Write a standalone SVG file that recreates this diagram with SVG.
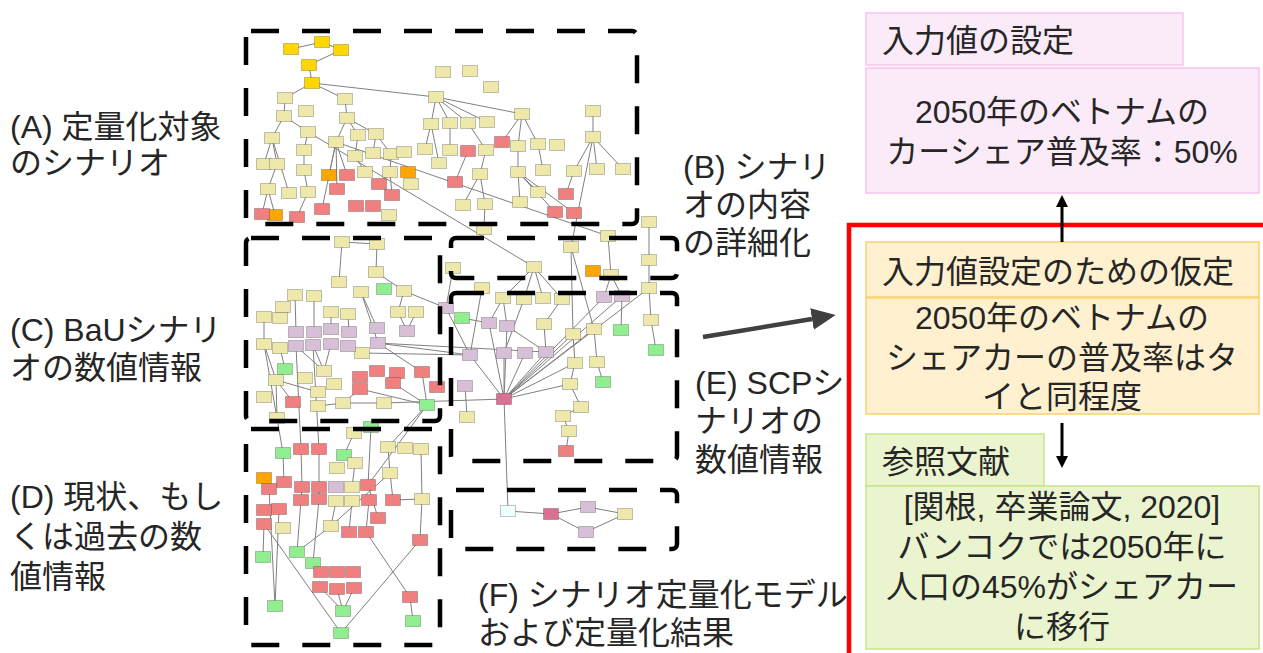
<svg xmlns="http://www.w3.org/2000/svg" xmlns:xlink="http://www.w3.org/1999/xlink" width="1263" height="653" viewBox="0 0 1263 653">
<style>
.ky{fill:#EEE8AA}.gd{fill:#FFD700}.or{fill:#FFA500}.rd{fill:#F08080}.gn{fill:#90EE90}.lv{fill:#D8BFD8}.pk{fill:#DB7093}.az{fill:#F0FFFF}
#nodes g{stroke:#000;stroke-opacity:.22;stroke-width:1}
#edges path{stroke:#808080;stroke-width:1;fill:none}
.dash{fill:none;stroke:#000;stroke-width:4.5;stroke-dasharray:28 23}
.lbl{font-family:"Liberation Sans","Noto Sans CJK JP",sans-serif;font-size:32px;fill:#262626}
.mid{text-anchor:middle}
</style>
<defs>
<rect id="bx" x="-7.5" y="-5.5" width="15" height="11"/>
<marker id="ah" markerUnits="userSpaceOnUse" markerWidth="12" markerHeight="12" refX="0" refY="6" orient="auto"><path d="M0,0L12,6L0,12z" fill="#000"/></marker>
<marker id="ahg" markerUnits="userSpaceOnUse" markerWidth="24" markerHeight="22" refX="0" refY="11" orient="auto"><path d="M0,0L24,11L0,22z" fill="#404040"/></marker>
</defs>
<rect width="1263" height="653" fill="#fff"/>

<g id="edges">
<path d="M291 49L322 42"/><path d="M322 42L341 50"/><path d="M341 50L309 65"/><path d="M309 65L312 83"/>
<path d="M312 83L285 98"/><path d="M312 83L345 99"/><path d="M312 83L436 97"/><path d="M285 98L284 116"/>
<path d="M345 99L347 118"/><path d="M284 116L272 138"/><path d="M284 116L308 132"/><path d="M272 138L264 164"/>
<path d="M272 138L277 164"/><path d="M277 164L268 189"/><path d="M272 138L289 193"/><path d="M268 189L262 214"/>
<path d="M268 189L275 215"/><path d="M308 132L304 150"/><path d="M304 150L304 170"/><path d="M304 170L308 192"/>
<path d="M308 192L297 217"/><path d="M308 132L534 267"/><path d="M347 118L336 142"/><path d="M347 118L358 135"/>
<path d="M347 118L376 134"/><path d="M336 142L329 175"/><path d="M336 142L347 175"/><path d="M336 142L337 189"/>
<path d="M336 142L322 209"/><path d="M336 142L608 236"/><path d="M358 135L355 156"/><path d="M355 156L365 172"/>
<path d="M376 134L373 153"/><path d="M376 134L391 154"/><path d="M391 154L390 172"/><path d="M390 172L379 184"/>
<path d="M390 172L392 195"/><path d="M436 97L431 124"/><path d="M436 97L450 123"/><path d="M436 97L468 123"/>
<path d="M436 97L487 122"/><path d="M436 97L522 114"/><path d="M431 124L425 149"/><path d="M431 124L439 163"/>
<path d="M450 123L450 150"/><path d="M468 123L486 150"/><path d="M486 150L480 174"/><path d="M468 151L455 182"/>
<path d="M480 174L463 205"/><path d="M480 174L485 204"/><path d="M485 204L484 229"/><path d="M522 114L502 142"/>
<path d="M522 114L518 146"/><path d="M522 114L538 144"/><path d="M518 146L518 172"/><path d="M538 144L543 170"/>
<path d="M518 172L520 202"/><path d="M518 172L538 192"/><path d="M518 172L574 213"/><path d="M518 172L555 212"/>
<path d="M593 111L593 137"/><path d="M593 137L574 171"/><path d="M593 137L597 169"/><path d="M593 137L623 169"/>
<path d="M593 137L571 247"/><path d="M574 171L566 194"/><path d="M649 222L649 260"/>
<path d="M534 267L503 298"/><path d="M534 267L524 299"/><path d="M534 267L543 298"/><path d="M534 267L562 299"/>
<path d="M571 247L573 334"/><path d="M571 247L594 329"/><path d="M608 236L611 275"/><path d="M611 275L604 297"/>
<path d="M611 275L622 296"/><path d="M622 296L621 330"/><path d="M649 260L649 288"/><path d="M649 288L651 320"/>
<path d="M651 320L656 350"/><path d="M649 288L504 399"/><path d="M604 297L504 399"/><path d="M622 296L504 399"/>
<path d="M482 288L470 355"/><path d="M453 268L446 308"/><path d="M446 308L470 355"/><path d="M462 318L489 323"/>
<path d="M503 298L489 323"/><path d="M503 298L507 326"/><path d="M524 299L504 353"/><path d="M507 326L546 352"/>
<path d="M562 299L544 324"/><path d="M544 324L546 352"/><path d="M470 355L504 399"/><path d="M489 323L504 399"/>
<path d="M507 326L504 399"/><path d="M504 353L504 399"/><path d="M525 353L504 399"/><path d="M546 352L504 399"/>
<path d="M573 334L504 399"/><path d="M594 329L504 399"/><path d="M575 363L504 399"/><path d="M570 384L504 399"/>
<path d="M573 334L575 363"/><path d="M594 329L597 362"/><path d="M597 362L603 382"/><path d="M575 363L570 384"/>
<path d="M570 384L581 407"/><path d="M581 407L563 416"/><path d="M563 416L569 431"/><path d="M569 431L566 451"/>
<path d="M465 386L467 417"/><path d="M384 403L504 399"/><path d="M504 399L508 511"/><path d="M377 343L470 355"/>
<path d="M377 343L546 352"/><path d="M362 353L470 355"/>
<path d="M342 242L377 244"/><path d="M342 242L339 282"/><path d="M377 244L376 272"/><path d="M376 272L404 291"/>
<path d="M404 291L398 312"/><path d="M404 291L446 308"/><path d="M398 312L407 331"/><path d="M416 312L407 331"/>
<path d="M361 292L377 328"/><path d="M361 292L378 343"/><path d="M295 295L296 332"/><path d="M314 296L314 332"/>
<path d="M331 312L331 329"/><path d="M348 314L349 332"/><path d="M296 346L301 449"/><path d="M313 345L319 449"/>
<path d="M264 317L264 344"/><path d="M264 344L276 380"/><path d="M264 344L277 418"/><path d="M280 348L285 369"/>
<path d="M276 380L277 418"/><path d="M276 380L318 392"/><path d="M276 380L293 402"/><path d="M296 346L324 371"/>
<path d="M313 345L324 371"/><path d="M331 344L324 371"/><path d="M318 406L343 403"/><path d="M343 403L384 403"/>
<path d="M343 403L360 389"/><path d="M378 343L422 372"/><path d="M360 389L427 405"/><path d="M393 383L427 405"/>
<path d="M422 372L427 405"/><path d="M427 405L388 447"/><path d="M427 405L368 485"/><path d="M277 418L283 453"/>
<path d="M283 453L284 482"/><path d="M301 449L302 487"/><path d="M302 487L301 500"/><path d="M301 500L297 552"/>
<path d="M319 449L319 487"/><path d="M319 487L319 499"/><path d="M319 499L313 563"/><path d="M354 433L344 455"/>
<path d="M371 427L368 485"/><path d="M355 463L352 487"/><path d="M388 447L390 473"/><path d="M390 473L393 500"/>
<path d="M421 449L422 499"/><path d="M422 499L393 500"/><path d="M422 499L420 540"/><path d="M390 473L331 526"/>
<path d="M331 526L297 552"/><path d="M336 501L331 526"/><path d="M352 501L349 532"/><path d="M369 500L366 532"/>
<path d="M368 485L378 518"/><path d="M264 524L263 557"/><path d="M264 524L341 633"/><path d="M269 489L275 606"/>
<path d="M279 509L275 606"/><path d="M366 532L410 597"/><path d="M410 597L413 621"/><path d="M420 540L341 633"/>
<path d="M343 611L320 587"/><path d="M343 611L337 589"/><path d="M343 611L354 588"/>
<path d="M508 511L551 514"/><path d="M551 514L588 507"/><path d="M588 507L625 514"/><path d="M551 514L586 532"/><path d="M586 532L625 514"/>
</g>

<g id="nodes">
<g id="n1" class="gd" transform="translate(291 49)"><use href="#bx"/></g>
<g id="n2" class="gd" transform="translate(322 42)"><use href="#bx"/></g>
<g id="n3" class="gd" transform="translate(341 50)"><use href="#bx"/></g>
<g id="n4" class="gd" transform="translate(309 65)"><use href="#bx"/></g>
<g id="n5" class="gd" transform="translate(312 83)"><use href="#bx"/></g>
<g id="n6" class="ky" transform="translate(443 72)"><use href="#bx"/></g>
<g id="n7" class="ky" transform="translate(470 71)"><use href="#bx"/></g>
<g id="n8" class="ky" transform="translate(491 87)"><use href="#bx"/></g>
<g id="n9" class="ky" transform="translate(285 98)"><use href="#bx"/></g>
<g id="n10" class="ky" transform="translate(345 99)"><use href="#bx"/></g>
<g id="n11" class="ky" transform="translate(436 97)"><use href="#bx"/></g>
<g id="n12" class="ky" transform="translate(284 116)"><use href="#bx"/></g>
<g id="n13" class="ky" transform="translate(306 111)"><use href="#bx"/></g>
<g id="n14" class="ky" transform="translate(347 118)"><use href="#bx"/></g>
<g id="n15" class="ky" transform="translate(522 114)"><use href="#bx"/></g>
<g id="n16" class="ky" transform="translate(593 111)"><use href="#bx"/></g>
<g id="n17" class="ky" transform="translate(272 138)"><use href="#bx"/></g>
<g id="n18" class="ky" transform="translate(308 132)"><use href="#bx"/></g>
<g id="n19" class="ky" transform="translate(431 124)"><use href="#bx"/></g>
<g id="n20" class="ky" transform="translate(450 123)"><use href="#bx"/></g>
<g id="n21" class="ky" transform="translate(468 123)"><use href="#bx"/></g>
<g id="n22" class="ky" transform="translate(487 122)"><use href="#bx"/></g>
<g id="n23" class="ky" transform="translate(358 135)"><use href="#bx"/></g>
<g id="n24" class="ky" transform="translate(376 134)"><use href="#bx"/></g>
<g id="n25" class="ky" transform="translate(336 142)"><use href="#bx"/></g>
<g id="n26" class="ky" transform="translate(518 146)"><use href="#bx"/></g>
<g id="n27" class="ky" transform="translate(538 144)"><use href="#bx"/></g>
<g id="n28" class="ky" transform="translate(557 145)"><use href="#bx"/></g>
<g id="n29" class="ky" transform="translate(593 137)"><use href="#bx"/></g>
<g id="n30" class="ky" transform="translate(304 150)"><use href="#bx"/></g>
<g id="n31" class="ky" transform="translate(264 164)"><use href="#bx"/></g>
<g id="n32" class="ky" transform="translate(277 164)"><use href="#bx"/></g>
<g id="n33" class="ky" transform="translate(355 156)"><use href="#bx"/></g>
<g id="n34" class="ky" transform="translate(373 153)"><use href="#bx"/></g>
<g id="n35" class="ky" transform="translate(391 154)"><use href="#bx"/></g>
<g id="n36" class="ky" transform="translate(404 152)"><use href="#bx"/></g>
<g id="n37" class="ky" transform="translate(425 149)"><use href="#bx"/></g>
<g id="n38" class="ky" transform="translate(450 150)"><use href="#bx"/></g>
<g id="n39" class="ky" transform="translate(486 150)"><use href="#bx"/></g>
<g id="n40" class="ky" transform="translate(439 163)"><use href="#bx"/></g>
<g id="n41" class="ky" transform="translate(304 170)"><use href="#bx"/></g>
<g id="n42" class="ky" transform="translate(365 172)"><use href="#bx"/></g>
<g id="n43" class="ky" transform="translate(390 172)"><use href="#bx"/></g>
<g id="n44" class="or" transform="translate(408 172)"><use href="#bx"/></g>
<g id="n45" class="ky" transform="translate(411 184)"><use href="#bx"/></g>
<g id="n46" class="ky" transform="translate(480 174)"><use href="#bx"/></g>
<g id="n47" class="ky" transform="translate(518 172)"><use href="#bx"/></g>
<g id="n48" class="ky" transform="translate(543 170)"><use href="#bx"/></g>
<g id="n49" class="ky" transform="translate(574 171)"><use href="#bx"/></g>
<g id="n50" class="ky" transform="translate(597 169)"><use href="#bx"/></g>
<g id="n51" class="ky" transform="translate(623 169)"><use href="#bx"/></g>
<g id="n52" class="ky" transform="translate(268 189)"><use href="#bx"/></g>
<g id="n53" class="ky" transform="translate(289 193)"><use href="#bx"/></g>
<g id="n54" class="ky" transform="translate(308 192)"><use href="#bx"/></g>
<g id="n55" class="ky" transform="translate(463 205)"><use href="#bx"/></g>
<g id="n56" class="ky" transform="translate(485 204)"><use href="#bx"/></g>
<g id="n57" class="ky" transform="translate(520 202)"><use href="#bx"/></g>
<g id="n58" class="ky" transform="translate(538 192)"><use href="#bx"/></g>
<g id="n59" class="ky" transform="translate(389 215)"><use href="#bx"/></g>
<g id="n60" class="ky" transform="translate(484 229)"><use href="#bx"/></g>
<g id="n61" class="ky" transform="translate(608 236)"><use href="#bx"/></g>
<g id="n62" class="ky" transform="translate(649 222)"><use href="#bx"/></g>
<g id="n63" class="or" transform="translate(329 175)"><use href="#bx"/></g>
<g id="n64" class="or" transform="translate(275 215)"><use href="#bx"/></g>
<g id="n65" class="rd" transform="translate(502 142)"><use href="#bx"/></g>
<g id="n66" class="rd" transform="translate(468 151)"><use href="#bx"/></g>
<g id="n67" class="rd" transform="translate(347 175)"><use href="#bx"/></g>
<g id="n68" class="rd" transform="translate(337 189)"><use href="#bx"/></g>
<g id="n69" class="rd" transform="translate(379 184)"><use href="#bx"/></g>
<g id="n70" class="rd" transform="translate(392 195)"><use href="#bx"/></g>
<g id="n71" class="rd" transform="translate(455 182)"><use href="#bx"/></g>
<g id="n72" class="rd" transform="translate(566 194)"><use href="#bx"/></g>
<g id="n73" class="rd" transform="translate(262 214)"><use href="#bx"/></g>
<g id="n74" class="rd" transform="translate(297 217)"><use href="#bx"/></g>
<g id="n75" class="rd" transform="translate(322 209)"><use href="#bx"/></g>
<g id="n76" class="rd" transform="translate(356 206)"><use href="#bx"/></g>
<g id="n77" class="rd" transform="translate(373 206)"><use href="#bx"/></g>
<g id="n78" class="rd" transform="translate(555 212)"><use href="#bx"/></g>
<g id="n79" class="rd" transform="translate(574 213)"><use href="#bx"/></g>
<g id="n80" class="ky" transform="translate(571 247)"><use href="#bx"/></g>
<g id="n81" class="ky" transform="translate(453 268)"><use href="#bx"/></g>
<g id="n82" class="ky" transform="translate(534 267)"><use href="#bx"/></g>
<g id="n83" class="ky" transform="translate(611 275)"><use href="#bx"/></g>
<g id="n84" class="ky" transform="translate(649 260)"><use href="#bx"/></g>
<g id="n85" class="ky" transform="translate(482 288)"><use href="#bx"/></g>
<g id="n86" class="ky" transform="translate(649 288)"><use href="#bx"/></g>
<g id="n87" class="ky" transform="translate(503 298)"><use href="#bx"/></g>
<g id="n88" class="ky" transform="translate(524 299)"><use href="#bx"/></g>
<g id="n89" class="ky" transform="translate(543 298)"><use href="#bx"/></g>
<g id="n90" class="ky" transform="translate(562 299)"><use href="#bx"/></g>
<g id="n91" class="ky" transform="translate(544 324)"><use href="#bx"/></g>
<g id="n92" class="ky" transform="translate(573 334)"><use href="#bx"/></g>
<g id="n93" class="ky" transform="translate(594 329)"><use href="#bx"/></g>
<g id="n94" class="ky" transform="translate(651 320)"><use href="#bx"/></g>
<g id="n95" class="ky" transform="translate(575 363)"><use href="#bx"/></g>
<g id="n96" class="ky" transform="translate(597 362)"><use href="#bx"/></g>
<g id="n97" class="ky" transform="translate(570 384)"><use href="#bx"/></g>
<g id="n98" class="ky" transform="translate(581 407)"><use href="#bx"/></g>
<g id="n99" class="ky" transform="translate(563 416)"><use href="#bx"/></g>
<g id="n100" class="ky" transform="translate(569 431)"><use href="#bx"/></g>
<g id="n101" class="ky" transform="translate(467 417)"><use href="#bx"/></g>
<g id="n102" class="or" transform="translate(593 271)"><use href="#bx"/></g>
<g id="n103" class="lv" transform="translate(604 297)"><use href="#bx"/></g>
<g id="n104" class="lv" transform="translate(622 296)"><use href="#bx"/></g>
<g id="n105" class="lv" transform="translate(446 308)"><use href="#bx"/></g>
<g id="n106" class="lv" transform="translate(489 323)"><use href="#bx"/></g>
<g id="n107" class="lv" transform="translate(507 326)"><use href="#bx"/></g>
<g id="n108" class="lv" transform="translate(470 355)"><use href="#bx"/></g>
<g id="n109" class="lv" transform="translate(504 353)"><use href="#bx"/></g>
<g id="n110" class="lv" transform="translate(525 353)"><use href="#bx"/></g>
<g id="n111" class="lv" transform="translate(546 352)"><use href="#bx"/></g>
<g id="n112" class="lv" transform="translate(465 386)"><use href="#bx"/></g>
<g id="n113" class="gn" transform="translate(462 318)"><use href="#bx"/></g>
<g id="n114" class="gn" transform="translate(621 330)"><use href="#bx"/></g>
<g id="n115" class="gn" transform="translate(656 350)"><use href="#bx"/></g>
<g id="n116" class="gn" transform="translate(603 382)"><use href="#bx"/></g>
<g id="n117" class="rd" transform="translate(437 387)"><use href="#bx"/></g>
<g id="n118" class="rd" transform="translate(566 451)"><use href="#bx"/></g>
<g id="n119" class="pk" transform="translate(504 399)"><use href="#bx"/></g>
<g id="n120" class="ky" transform="translate(342 242)"><use href="#bx"/></g>
<g id="n121" class="ky" transform="translate(377 244)"><use href="#bx"/></g>
<g id="n122" class="ky" transform="translate(339 282)"><use href="#bx"/></g>
<g id="n123" class="ky" transform="translate(376 272)"><use href="#bx"/></g>
<g id="n124" class="ky" transform="translate(361 292)"><use href="#bx"/></g>
<g id="n125" class="ky" transform="translate(404 291)"><use href="#bx"/></g>
<g id="n126" class="ky" transform="translate(295 295)"><use href="#bx"/></g>
<g id="n127" class="ky" transform="translate(314 296)"><use href="#bx"/></g>
<g id="n128" class="ky" transform="translate(283 307)"><use href="#bx"/></g>
<g id="n129" class="ky" transform="translate(264 317)"><use href="#bx"/></g>
<g id="n130" class="ky" transform="translate(280 318)"><use href="#bx"/></g>
<g id="n131" class="ky" transform="translate(331 312)"><use href="#bx"/></g>
<g id="n132" class="ky" transform="translate(348 314)"><use href="#bx"/></g>
<g id="n133" class="ky" transform="translate(398 312)"><use href="#bx"/></g>
<g id="n134" class="ky" transform="translate(416 312)"><use href="#bx"/></g>
<g id="n135" class="ky" transform="translate(264 344)"><use href="#bx"/></g>
<g id="n136" class="ky" transform="translate(280 348)"><use href="#bx"/></g>
<g id="n137" class="ky" transform="translate(362 353)"><use href="#bx"/></g>
<g id="n138" class="ky" transform="translate(324 371)"><use href="#bx"/></g>
<g id="n139" class="ky" transform="translate(305 378)"><use href="#bx"/></g>
<g id="n140" class="ky" transform="translate(276 380)"><use href="#bx"/></g>
<g id="n141" class="ky" transform="translate(334 384)"><use href="#bx"/></g>
<g id="n142" class="ky" transform="translate(264 397)"><use href="#bx"/></g>
<g id="n143" class="ky" transform="translate(318 392)"><use href="#bx"/></g>
<g id="n144" class="ky" transform="translate(318 406)"><use href="#bx"/></g>
<g id="n145" class="ky" transform="translate(343 403)"><use href="#bx"/></g>
<g id="n146" class="ky" transform="translate(384 403)"><use href="#bx"/></g>
<g id="n147" class="ky" transform="translate(277 418)"><use href="#bx"/></g>
<g id="n148" class="gn" transform="translate(384 289)"><use href="#bx"/></g>
<g id="n149" class="gn" transform="translate(285 369)"><use href="#bx"/></g>
<g id="n150" class="gn" transform="translate(427 405)"><use href="#bx"/></g>
<g id="n151" class="lv" transform="translate(377 328)"><use href="#bx"/></g>
<g id="n152" class="lv" transform="translate(407 331)"><use href="#bx"/></g>
<g id="n153" class="lv" transform="translate(296 332)"><use href="#bx"/></g>
<g id="n154" class="lv" transform="translate(314 332)"><use href="#bx"/></g>
<g id="n155" class="lv" transform="translate(331 329)"><use href="#bx"/></g>
<g id="n156" class="lv" transform="translate(349 332)"><use href="#bx"/></g>
<g id="n157" class="lv" transform="translate(296 346)"><use href="#bx"/></g>
<g id="n158" class="lv" transform="translate(313 345)"><use href="#bx"/></g>
<g id="n159" class="lv" transform="translate(331 344)"><use href="#bx"/></g>
<g id="n160" class="lv" transform="translate(348 346)"><use href="#bx"/></g>
<g id="n161" class="lv" transform="translate(378 343)"><use href="#bx"/></g>
<g id="n162" class="rd" transform="translate(360 377)"><use href="#bx"/></g>
<g id="n163" class="rd" transform="translate(377 371)"><use href="#bx"/></g>
<g id="n164" class="rd" transform="translate(397 373)"><use href="#bx"/></g>
<g id="n165" class="rd" transform="translate(422 372)"><use href="#bx"/></g>
<g id="n166" class="rd" transform="translate(393 383)"><use href="#bx"/></g>
<g id="n167" class="rd" transform="translate(360 389)"><use href="#bx"/></g>
<g id="n168" class="rd" transform="translate(293 402)"><use href="#bx"/></g>
<g id="n169" class="gn" transform="translate(371 427)"><use href="#bx"/></g>
<g id="n170" class="gn" transform="translate(283 453)"><use href="#bx"/></g>
<g id="n171" class="gn" transform="translate(344 455)"><use href="#bx"/></g>
<g id="n172" class="gn" transform="translate(263 557)"><use href="#bx"/></g>
<g id="n173" class="gn" transform="translate(297 552)"><use href="#bx"/></g>
<g id="n174" class="gn" transform="translate(313 563)"><use href="#bx"/></g>
<g id="n175" class="gn" transform="translate(275 606)"><use href="#bx"/></g>
<g id="n176" class="gn" transform="translate(343 611)"><use href="#bx"/></g>
<g id="n177" class="gn" transform="translate(341 633)"><use href="#bx"/></g>
<g id="n178" class="gn" transform="translate(413 621)"><use href="#bx"/></g>
<g id="n179" class="or" transform="translate(264 478)"><use href="#bx"/></g>
<g id="n180" class="rd" transform="translate(301 449)"><use href="#bx"/></g>
<g id="n181" class="rd" transform="translate(319 449)"><use href="#bx"/></g>
<g id="n182" class="rd" transform="translate(284 482)"><use href="#bx"/></g>
<g id="n183" class="rd" transform="translate(269 489)"><use href="#bx"/></g>
<g id="n184" class="rd" transform="translate(302 487)"><use href="#bx"/></g>
<g id="n185" class="rd" transform="translate(319 487)"><use href="#bx"/></g>
<g id="n186" class="rd" transform="translate(368 485)"><use href="#bx"/></g>
<g id="n187" class="rd" transform="translate(301 500)"><use href="#bx"/></g>
<g id="n188" class="rd" transform="translate(319 499)"><use href="#bx"/></g>
<g id="n189" class="rd" transform="translate(369 500)"><use href="#bx"/></g>
<g id="n190" class="rd" transform="translate(393 500)"><use href="#bx"/></g>
<g id="n191" class="rd" transform="translate(264 510)"><use href="#bx"/></g>
<g id="n192" class="rd" transform="translate(279 509)"><use href="#bx"/></g>
<g id="n193" class="rd" transform="translate(264 524)"><use href="#bx"/></g>
<g id="n194" class="rd" transform="translate(378 518)"><use href="#bx"/></g>
<g id="n195" class="rd" transform="translate(349 532)"><use href="#bx"/></g>
<g id="n196" class="rd" transform="translate(366 532)"><use href="#bx"/></g>
<g id="n197" class="rd" transform="translate(420 540)"><use href="#bx"/></g>
<g id="n198" class="rd" transform="translate(321 572)"><use href="#bx"/></g>
<g id="n199" class="rd" transform="translate(337 572)"><use href="#bx"/></g>
<g id="n200" class="rd" transform="translate(353 572)"><use href="#bx"/></g>
<g id="n201" class="rd" transform="translate(320 587)"><use href="#bx"/></g>
<g id="n202" class="rd" transform="translate(337 589)"><use href="#bx"/></g>
<g id="n203" class="rd" transform="translate(354 588)"><use href="#bx"/></g>
<g id="n204" class="rd" transform="translate(410 597)"><use href="#bx"/></g>
<g id="n205" class="lv" transform="translate(336 487)"><use href="#bx"/></g>
<g id="n206" class="ky" transform="translate(354 433)"><use href="#bx"/></g>
<g id="n207" class="ky" transform="translate(388 447)"><use href="#bx"/></g>
<g id="n208" class="ky" transform="translate(405 448)"><use href="#bx"/></g>
<g id="n209" class="ky" transform="translate(421 449)"><use href="#bx"/></g>
<g id="n210" class="ky" transform="translate(355 463)"><use href="#bx"/></g>
<g id="n211" class="ky" transform="translate(337 468)"><use href="#bx"/></g>
<g id="n212" class="ky" transform="translate(390 473)"><use href="#bx"/></g>
<g id="n213" class="ky" transform="translate(352 487)"><use href="#bx"/></g>
<g id="n214" class="ky" transform="translate(336 501)"><use href="#bx"/></g>
<g id="n215" class="ky" transform="translate(352 501)"><use href="#bx"/></g>
<g id="n216" class="ky" transform="translate(422 499)"><use href="#bx"/></g>
<g id="n217" class="ky" transform="translate(283 528)"><use href="#bx"/></g>
<g id="n218" class="ky" transform="translate(331 526)"><use href="#bx"/></g>
<g id="n219" class="az" transform="translate(508 511)"><use href="#bx"/></g>
<g id="n220" class="pk" transform="translate(551 514)"><use href="#bx"/></g>
<g id="n221" class="lv" transform="translate(588 507)"><use href="#bx"/></g>
<g id="n222" class="lv" transform="translate(586 532)"><use href="#bx"/></g>
<g id="n223" class="ky" transform="translate(625 514)"><use href="#bx"/></g>
</g>

<g id="groups">
<rect class="dash" x="246" y="31" width="391" height="193" rx="5"/>
<rect class="dash" x="246" y="238" width="194" height="183" rx="5"/>
<rect class="dash" x="246" y="429" width="194" height="216" rx="5"/>
<rect class="dash" x="451" y="238" width="226" height="40" rx="5"/>
<rect class="dash" x="451" y="293" width="226" height="168" rx="5"/>
<rect class="dash" x="451" y="490" width="226" height="59" rx="5"/>
</g>

<g id="labels" class="lbl">
<text x="10" y="138">(A) 定量化対象</text>
<text x="10" y="174">のシナリオ</text>
<text x="10" y="341">(C) BaUシナリ</text>
<text x="10" y="379">オの数値情報</text>
<text x="10" y="508">(D) 現状、もし</text>
<text x="10" y="548">くは過去の数</text>
<text x="10" y="588">値情報</text>
<text x="683" y="178">(B) シナリ</text>
<text x="683" y="216">オの内容</text>
<text x="683" y="254">の詳細化</text>
<text x="695" y="394">(E) SCPシ</text>
<text x="695" y="432">ナリオの</text>
<text x="695" y="471">数値情報</text>
<text x="478" y="606">(F) シナリオ定量化モデル</text>
<text x="478" y="644">および定量化結果</text>
</g>

<line id="bigarrow" x1="703" y1="337" x2="812" y2="319" stroke="#404040" stroke-width="4.5" marker-end="url(#ahg)"/>

<path id="frame" d="M849 653V225H1263" fill="none" stroke="#FF0000" stroke-width="4.5"/>

<g id="input-title">
<rect x="866" y="13" width="317" height="52" fill="#FBEAF8" stroke="#F7C4EE" stroke-width="1.5"/>
<text class="lbl" x="882" y="52">入力値の設定</text>
</g>
<g id="input-body">
<rect x="866" y="68" width="393" height="125" fill="#FBEAF8" stroke="#F7C4EE" stroke-width="1.5"/>
<text class="lbl mid" x="1062" y="123">2050年のベトナムの</text>
<text class="lbl mid" x="1062" y="163">カーシェア普及率：50%</text>
</g>
<g id="assume-title">
<rect x="866" y="242" width="393" height="55" fill="#FFF0CF" stroke="#F8D26F" stroke-width="1.5"/>
<text class="lbl" x="882" y="283">入力値設定のための仮定</text>
</g>
<g id="assume-body">
<rect x="866" y="298" width="393" height="116" fill="#FFF0CF" stroke="#F8D26F" stroke-width="1.5"/>
<text class="lbl mid" x="1062" y="329">2050年のベトナムの</text>
<text class="lbl mid" x="1062" y="369">シェアカーの普及率はタ</text>
<text class="lbl mid" x="1062" y="408">イと同程度</text>
</g>
<g id="ref-title">
<rect x="866" y="434" width="178" height="52" fill="#EAF5CF" stroke="#C6E58D" stroke-width="1.5"/>
<text class="lbl" x="882" y="473">参照文献</text>
</g>
<g id="ref-body">
<rect x="866" y="486" width="393" height="163" fill="#EAF5CF" stroke="#C6E58D" stroke-width="1.5"/>
<text class="lbl mid" x="1062" y="518">[関根, 卒業論文, 2020]</text>
<text class="lbl mid" x="1062" y="558">バンコクでは2050年に</text>
<text class="lbl mid" x="1062" y="598">人口の45%がシェアカー</text>
<text class="lbl mid" x="1062" y="638">に移行</text>
</g>

<g id="arrows" stroke="#000" stroke-width="3">
<line x1="1062" y1="242" x2="1062" y2="207" marker-end="url(#ah)"/>
<line x1="1062" y1="423" x2="1062" y2="456" marker-end="url(#ah)"/>
</g>
</svg>
